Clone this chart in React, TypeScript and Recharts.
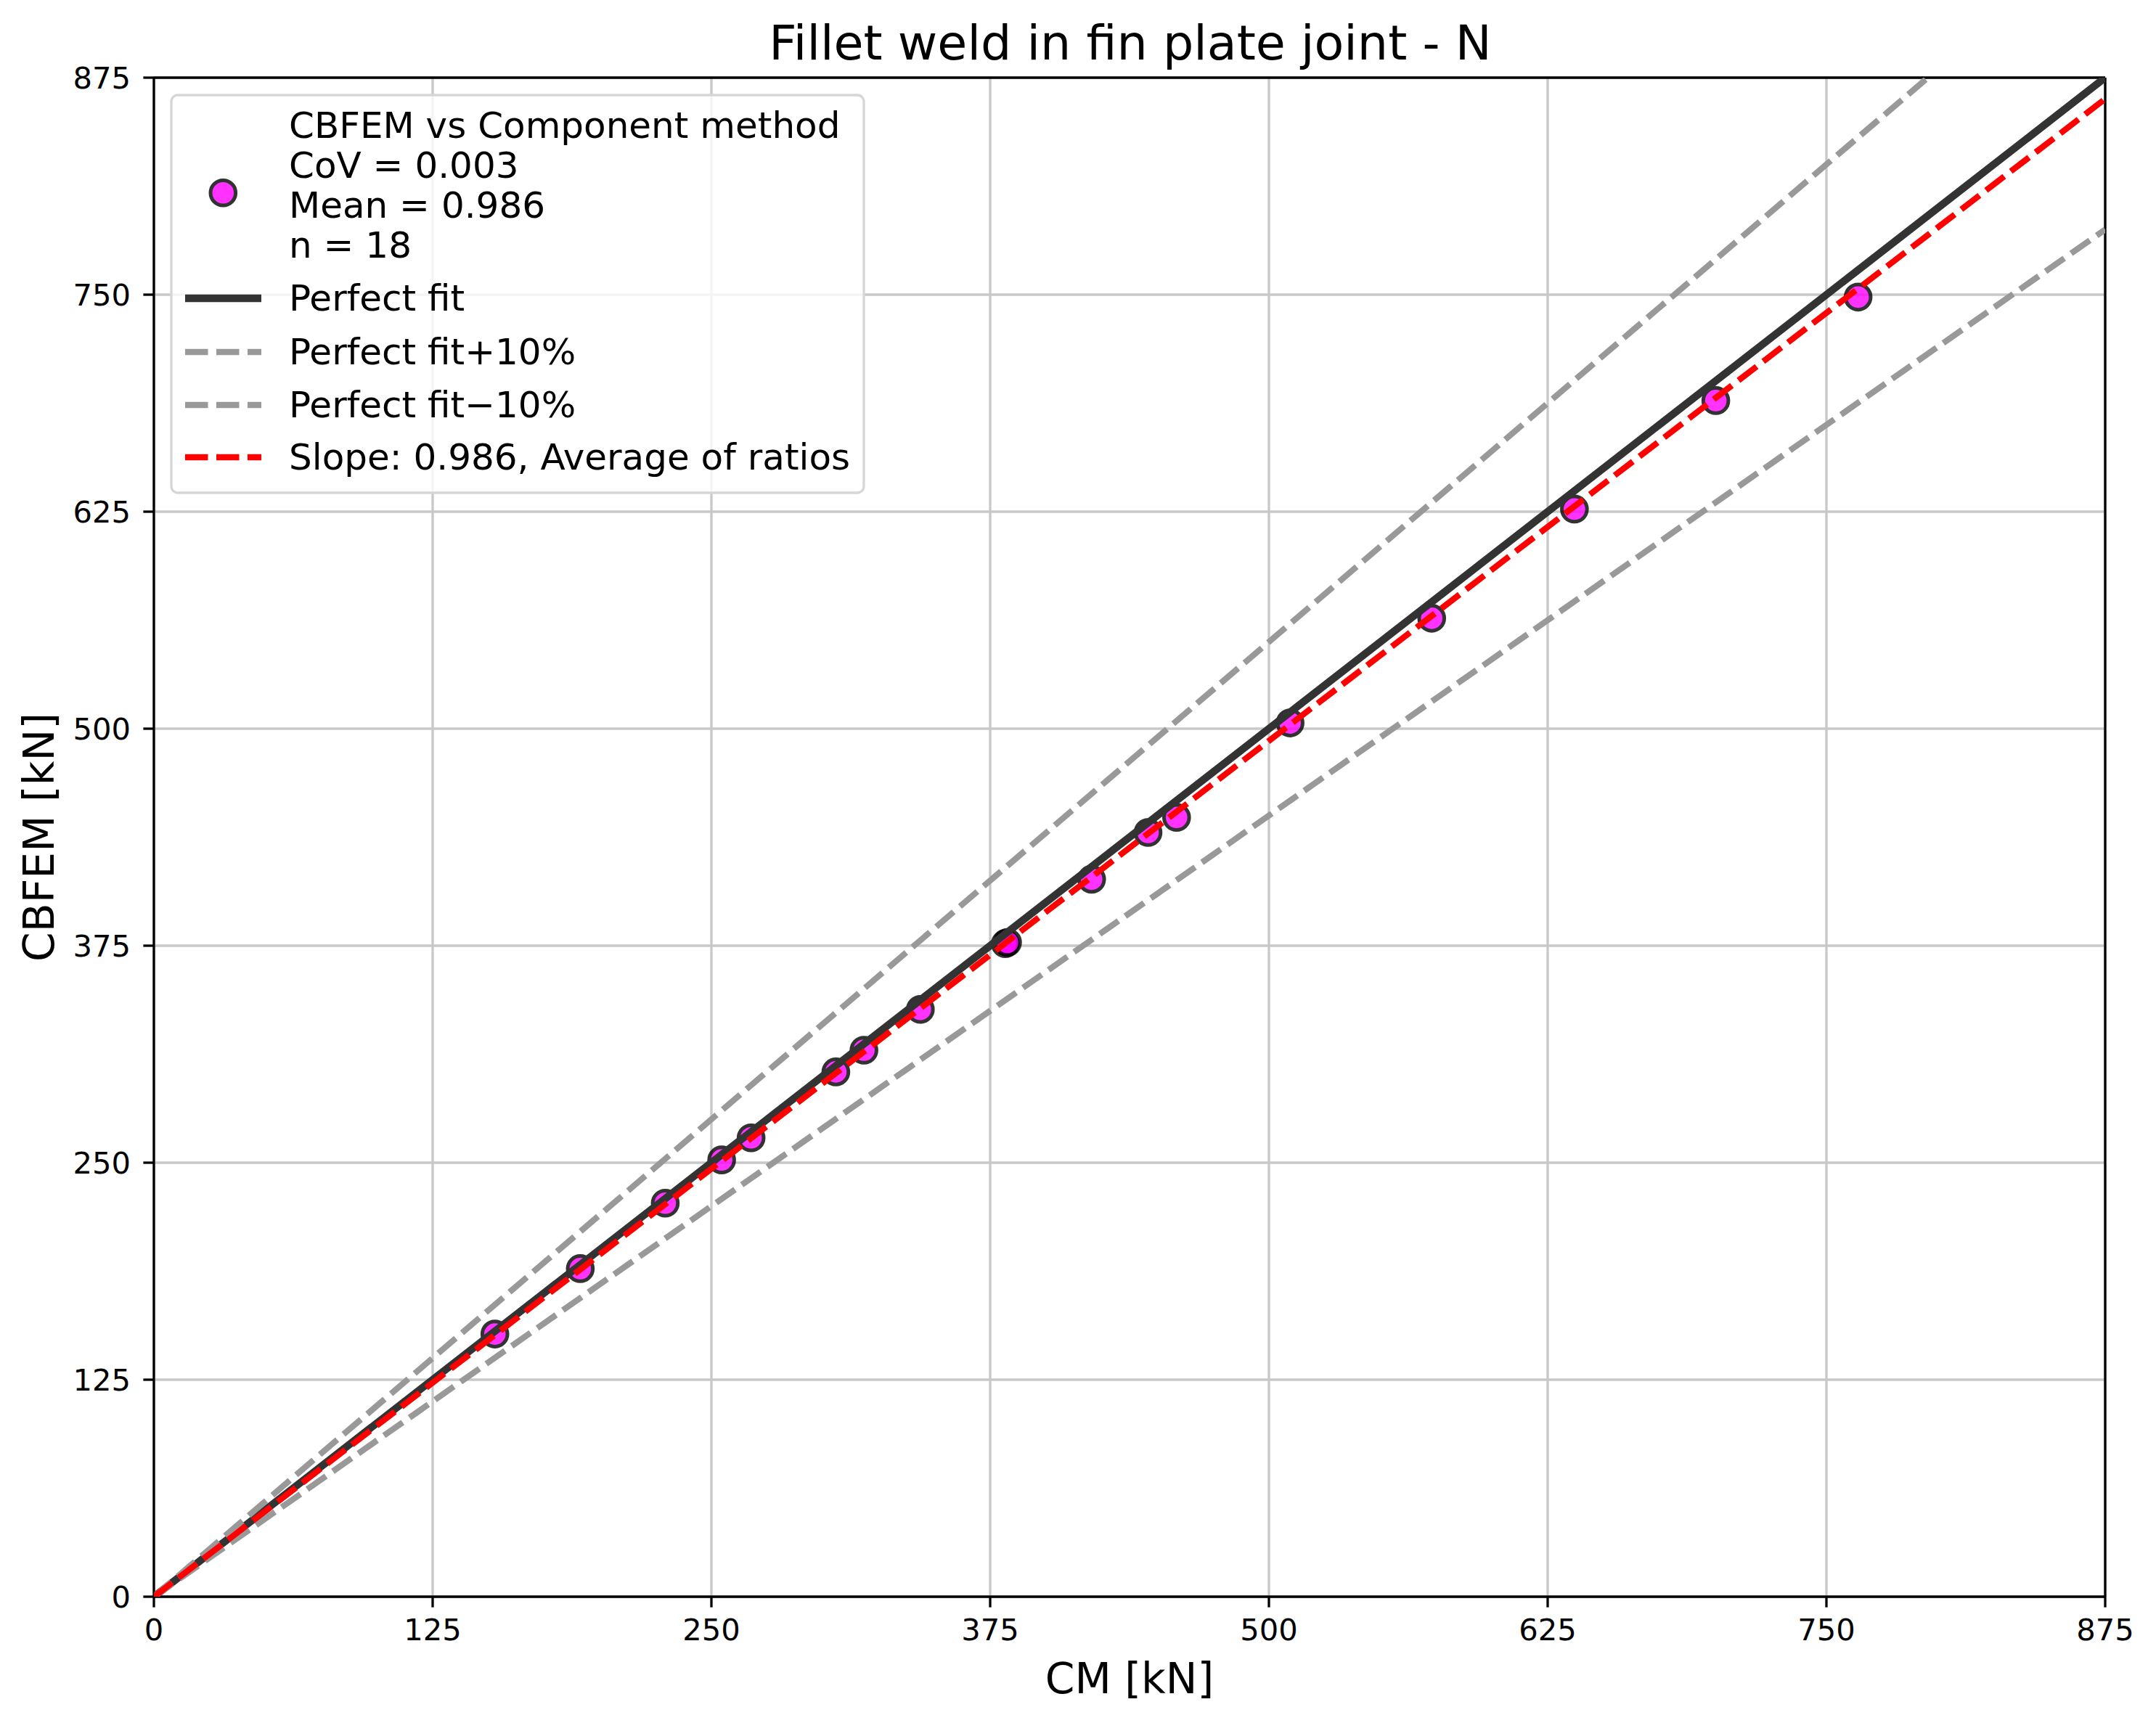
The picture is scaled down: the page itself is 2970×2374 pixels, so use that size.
import React from "react";
import {
  ScatterChart,
  Scatter,
  XAxis,
  YAxis,
  CartesianGrid,
  ReferenceLine,
  Customized,
  Label,
} from "recharts";

// CM (x) and CBFEM (y) resistances, kN
const cmValues = [
  152.9, 191.2, 229.3, 254.6, 267.8, 305.8, 318.4, 343.7, 381.8, 382.8, 420.5,
  445.8, 458.6, 509.5, 573.0, 637.0, 700.4, 764.2,
];
const cbfemValues = [
  151.3, 189.0, 226.7, 251.6, 264.3, 302.3, 314.8, 338.3, 376.2, 376.9, 413.3,
  440.2, 448.9, 503.3, 563.6, 626.5, 689.0, 748.6,
];

// reference line end points
const perfectFitX = [0, 875];
const perfectFitY = [0, 875];
const plus10X = [0, 795.45];
const plus10Y = [0, 875];
const minus10X = [0, 875];
const minus10Y = [0, 787.5];
const slopeX = [0, 875];
const slopeY = [0, 862.75];

const axisTicks = [0, 125, 250, 375, 500, 625, 750, 875];

const statsLines = [
  "CBFEM vs Component method",
  "CoV = 0.003",
  "Mean = 0.986",
  "n = 18",
];
const lineLabels = [
  "Perfect fit",
  "Perfect fit+10%",
  "Perfect fit\u221210%",
  "Slope: 0.986, Average of ratios",
];

const title = "Fillet weld in fin plate joint - N";
const xLabel = "CM [kN]";
const yLabel = "CBFEM [kN]";

const zip = (xs: number[], ys: number[]) => xs.map((x, i) => ({ x, y: ys[i] }));

const points = zip(cmValues, cbfemValues);
const perfectFit = zip(perfectFitX, perfectFitY);
const plus10 = zip(plus10X, plus10Y);
const minus10 = zip(minus10X, minus10Y);
const slopeLine = zip(slopeX, slopeY);

const W = 2970;
const H = 2374;
const FONT = "'DejaVu Sans', sans-serif";

const lineStyles = [
  { stroke: "#333333", strokeWidth: 10.4, dash: undefined },
  { stroke: "#999999", strokeWidth: 8.3, dash: "31.5 11.5" },
  { stroke: "#999999", strokeWidth: 8.3, dash: "31.5 11.5" },
  { stroke: "#ff0000", strokeWidth: 8.3, dash: "31.5 11.5" },
];

const noDot = () => <g />;

const Marker = (props: any) => (
  <circle
    cx={props.cx}
    cy={props.cy}
    r={17.3}
    fill="#ff00ff"
    stroke="#000000"
    strokeWidth={5}
    opacity={0.8}
  />
);

function Overlay() {
  const statsBase = [189.6, 244.5, 299.5, 354.5];
  const rowBase = [428, 502, 575, 647];
  return (
    <g style={{ fontFamily: FONT }}>
      <text x={1557} y={81.7} fontSize={66.7} textAnchor="middle" fill="#000">
        {title}
      </text>
      <rect
        x={236}
        y={131}
        width={954}
        height={548}
        rx={9}
        fill="#ffffff"
        fillOpacity={0.8}
        stroke="#d6d6d6"
        strokeWidth={3.3}
      />
      <circle
        cx={307.3}
        cy={265.7}
        r={17.3}
        fill="#ff00ff"
        stroke="#000"
        strokeWidth={5}
        opacity={0.8}
      />
      {statsLines.map((s, i) => (
        <text key={s} x={398} y={statsBase[i]} fontSize={50} fill="#000">
          {s}
        </text>
      ))}
      {lineLabels.map((s, i) => (
        <g key={s}>
          <line
            x1={255}
            x2={360}
            y1={rowBase[i] - 17}
            y2={rowBase[i] - 17}
            stroke={lineStyles[i].stroke}
            strokeWidth={lineStyles[i].strokeWidth}
            strokeDasharray={lineStyles[i].dash}
          />
          <text x={398} y={rowBase[i]} fontSize={50} fill="#000">
            {s}
          </text>
        </g>
      ))}
    </g>
  );
}

export default function App() {
  const tickStyle = { fontSize: 41.7, fill: "#000", fontFamily: FONT };
  return (
    <div
      style={{
        position: "absolute",
        left: 0,
        top: 0,
        width: W,
        height: H,
        background: "#fff",
        fontFamily: FONT,
      }}
    >
      <ScatterChart
        width={W}
        height={H}
        margin={{ top: 107, right: 70, bottom: 0, left: 0 }}
      >
        <CartesianGrid stroke="#c8c8c8" strokeWidth={3.3} />
        <XAxis
          type="number"
          dataKey="x"
          domain={[0, 875]}
          ticks={axisTicks}
          allowDataOverflow
          height={174}
          tick={tickStyle}
          tickSize={14.6}
          tickMargin={15.4}
          axisLine={{ stroke: "#000", strokeWidth: 3.3 }}
          tickLine={{ stroke: "#000", strokeWidth: 3.3 }}
        >
          <Label
            content={({ viewBox }: any) => (
              <text
                x={viewBox.x + viewBox.width / 2}
                y={viewBox.y + 132.7}
                fontSize={58.3}
                textAnchor="middle"
                fill="#000"
                style={{ fontFamily: FONT }}
              >
                {xLabel}
              </text>
            )}
          />
        </XAxis>
        <YAxis
          type="number"
          dataKey="y"
          domain={[0, 875]}
          ticks={axisTicks}
          allowDataOverflow
          width={212}
          tick={tickStyle}
          tickSize={14.6}
          tickMargin={17.4}
          axisLine={{ stroke: "#000", strokeWidth: 3.3 }}
          tickLine={{ stroke: "#000", strokeWidth: 3.3 }}
        >
          <Label
            content={({ viewBox }: any) => {
              const cx = 73.5;
              const cy = viewBox.y + viewBox.height / 2;
              return (
                <text
                  x={cx}
                  y={cy}
                  fontSize={58.3}
                  textAnchor="middle"
                  fill="#000"
                  transform={`rotate(-90, ${cx}, ${cy})`}
                  style={{ fontFamily: FONT }}
                >
                  {yLabel}
                </text>
              );
            }}
          />
        </YAxis>
        <ReferenceLine y={875} stroke="#000" strokeWidth={3.3} />
        <ReferenceLine x={875} stroke="#000" strokeWidth={3.3} />

        <Scatter data={points} shape={Marker} isAnimationActive={false} />
        <Scatter
          data={perfectFit}
          shape={noDot}
          line={{ stroke: lineStyles[0].stroke, strokeWidth: lineStyles[0].strokeWidth }}
          isAnimationActive={false}
        />
        <Scatter
          data={plus10}
          shape={noDot}
          line={{
            stroke: lineStyles[1].stroke,
            strokeWidth: lineStyles[1].strokeWidth,
            strokeDasharray: lineStyles[1].dash,
          }}
          isAnimationActive={false}
        />
        <Scatter
          data={minus10}
          shape={noDot}
          line={{
            stroke: lineStyles[2].stroke,
            strokeWidth: lineStyles[2].strokeWidth,
            strokeDasharray: lineStyles[2].dash,
          }}
          isAnimationActive={false}
        />
        <Scatter
          data={slopeLine}
          shape={noDot}
          line={{
            stroke: lineStyles[3].stroke,
            strokeWidth: lineStyles[3].strokeWidth,
            strokeDasharray: lineStyles[3].dash,
          }}
          isAnimationActive={false}
        />
        <Customized component={Overlay} />
      </ScatterChart>
    </div>
  );
}
